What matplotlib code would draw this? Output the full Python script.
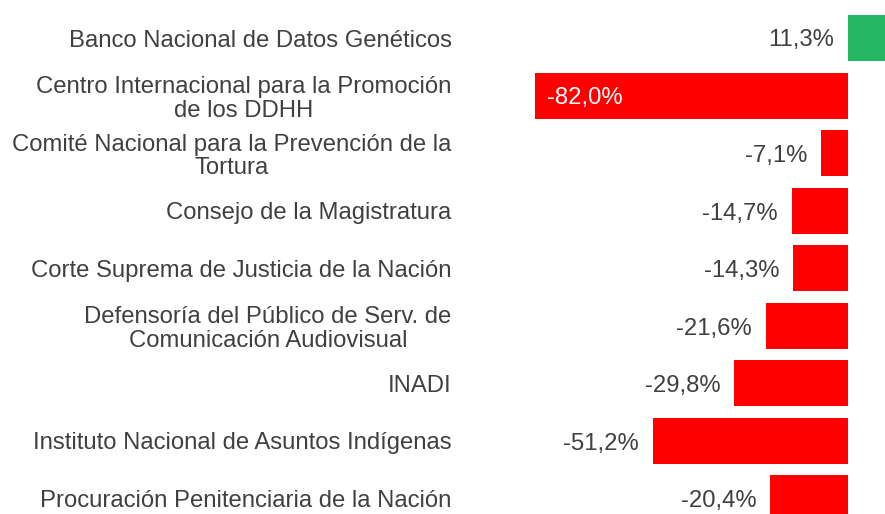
import matplotlib.pyplot as plt

plt.rcParams['font.family'] = ['Liberation Sans', 'DejaVu Sans']

categories = [
    "Banco Nacional de Datos Genéticos",
    "Centro Internacional para la Promoción\nde los DDHH",
    "Comité Nacional para la Prevención de la\nTortura",
    "Consejo de la Magistratura",
    "Corte Suprema de Justicia de la Nación",
    "Defensoría del Público de Serv. de\nComunicación Audiovisual",
    "INADI",
    "Instituto Nacional de Asuntos Indígenas",
    "Procuración Penitenciaria de la Nación",
]
values = [11.3, -82.0, -7.1, -14.7, -14.3, -21.6, -29.8, -51.2, -20.4]

RED = '#FF0000'
GREEN = '#25B864'
GREY = '#404040'
FS = 17.2

fig = plt.figure(figsize=(8.85, 5.14), dpi=100)
ax = fig.add_axes([460 / 885, 0, 425 / 885, 1])

ypos = list(range(len(values)))
colors = [GREEN if v > 0 else RED for v in values]
ax.barh(ypos, values, height=0.8, color=colors)

ax.set_xlim(-101.65, 9.69)
ax.set_ylim(8.278, -0.661)

ax.set_yticks(ypos)
ax.set_yticklabels(categories, fontsize=FS, color=GREY)
for t in ax.get_yticklabels():
    t.set_multialignment('center')
    t.set_linespacing(1.1)
ax.tick_params(axis='y', length=0, pad=6)
ax.set_xticks([])
for s in ax.spines.values():
    s.set_visible(False)

for i, v in enumerate(values):
    lab = f"{v:.1f}%".replace('.', ',')
    if v > 0:
        ax.annotate(lab, (0, i), xytext=(-14, -2), textcoords='offset pixels',
                    ha='right', va='center', fontsize=FS, color=GREY)
    elif v < -70:
        ax.annotate(lab, (v, i), xytext=(12, -2), textcoords='offset pixels',
                    ha='left', va='center', fontsize=FS, color='white')
    else:
        ax.annotate(lab, (v, i), xytext=(-14, -3), textcoords='offset pixels',
                    ha='right', va='center', fontsize=FS, color=GREY)

fig.savefig('out.png', dpi=100)
